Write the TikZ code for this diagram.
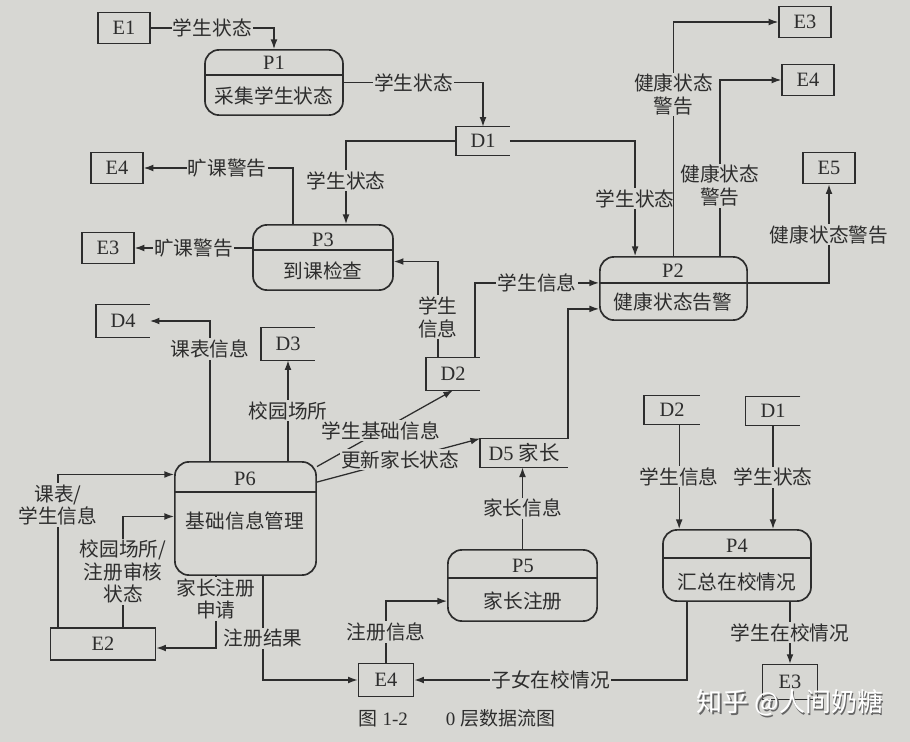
\documentclass[tikz,border=0pt]{standalone}
\usepackage{fontspec}
\setmainfont{Liberation Serif}
\newfontfamily\cjk{Noto Sans CJK SC}
\usetikzlibrary{arrows.meta}
\definecolor{bg}{RGB}{215,215,211}
\definecolor{ink}{RGB}{45,45,45}
\tikzset{%
  entity/.style = {draw=ink, line width=1pt, rectangle, minimum width=1.3cm,
    minimum height=0.78cm, font=\fontsize{14.5}{16}\selectfont},
  store/.style  = {rectangle, minimum width=1.33cm, minimum height=0.7cm,
    font=\fontsize{14.5}{16}\selectfont}, % open box
  proc/.style   = {draw=ink, line width=1.2pt, rectangle, rounded corners=10pt},
  pid/.style    = {font=\fontsize{14.5}{16}\selectfont},
  ptext/.style  = {font=\cjk\fontsize{14}{16}\selectfont},
  flow/.style   = {draw=ink, line width=0.9pt, -{Latex[length=2.4mm,width=1.7mm]}},
  lbl/.style    = {fill=bg, inner sep=1pt, align=center,
    font=\cjk\fontsize{14}{16}\selectfont}
}
\begin{document}
\begin{tikzpicture}[x=0.025cm, y=-0.025cm, color=ink, text=ink]
\fill[bg] (0,0) rectangle (910,742);
\useasboundingbox (0,0) rectangle (910,742);
% external entities
\node[entity] (E1)  at (124,28)  {E1};
\node[entity] (E4a) at (117,168) {E4};
\node[entity] (E3a) at (108,248) {E3};
\node[entity] (E3b) at (805,22)  {E3};
\node[entity] (E4b) at (808,80)  {E4};
\node[entity] (E5)  at (829,168) {E5};
\node[entity, minimum width=2.63cm, minimum height=0.8cm] (E2) at (103,644) {E2};
\node[entity, minimum width=1.38cm, minimum height=0.83cm] (E4c) at (386,680) {E4};
\node[entity, minimum width=1.38cm, minimum height=0.87cm] (E3c) at (790,682) {E3};
% data stores
\node[store] (D1)  at (483,141) {D1};
\node[store, minimum height=0.8cm] (D2a) at (453,374) {D2};
\node[store, minimum height=0.8cm] (D3)  at (288,344) {D3};
\node[store, minimum height=0.82cm] (D4)  at (123,321) {D4};
\node[store, minimum width=2.18cm] (D5) at (524,453) {D5 {\cjk 家长}};
\node[store, minimum width=1.38cm] (D2b) at (672,410) {D2};
\node[store, minimum width=1.35cm] (D1b) at (773,411) {D1};
\foreach \s in {D1,D2a,D3,D4,D5,D2b,D1b}
  \draw[line width=1pt] (\s.north east) -- (\s.north west) -- (\s.south west) -- (\s.south east);
% processes
\node[proc, minimum width=3.45cm, minimum height=1.63cm] (P1) at (274,82.5) {};
\node[proc, minimum width=3.5cm, minimum height=1.63cm]  (P3) at (323,257.5) {};
\node[proc, minimum width=3.68cm, minimum height=1.58cm] (P2) at (673.5,288.5) {};
\node[proc, minimum width=3.53cm, minimum height=2.83cm] (P6) at (245.5,518.5) {};
\node[proc, minimum width=3.73cm, minimum height=1.78cm] (P5) at (522.5,585.5) {};
\node[proc, minimum width=3.7cm, minimum height=1.78cm]  (P4) at (737,565.5) {};
\foreach \p/\d in {P1/75,P3/250,P2/283,P6/492,P5/578,P4/558}
  \draw[line width=1pt] (\p.west |- 0,\d) -- (\p.east |- 0,\d);
\node[pid] (P1id) at (274,63)  {P1};
\node[ptext] (P1txt) at (274,96) {采集学生状态};
\node[pid] (P3id) at (323,240) {P3};
\node[ptext] (P3txt) at (323,271) {到课检查};
\node[pid] (P2id) at (673,271) {P2};
\node[ptext] (P2txt) at (673,302) {健康状态告警};
\node[pid] (P6id) at (245,479) {P6};
\node[ptext] (P6txt) at (245,521) {基础信息管理};
\node[pid] (P5id) at (523,566) {P5};
\node[ptext] (P5txt) at (523,601) {家长注册};
\node[pid] (P4id) at (737,546) {P4};
\node[ptext] (P4txt) at (737,582) {汇总在校情况};
% flows
\draw[flow] (E1) -| node[lbl, pos=.25] {学生状态} (P1);
\draw[flow] (P1) -| node[lbl, pos=.25] {学生状态} (D1);
\draw[flow] (D1.west) -| node[lbl, pos=.74] {学生状态} ([xshift=.575cm]P3.north);
\draw[flow] (D1.east) -| node[lbl, pos=.75] {学生状态} ([xshift=-.96cm]P2.north);
\draw[flow] ([xshift=-.75cm]P3.north) |- node[lbl, pos=.72] {旷课警告} (E4a);
\draw[flow] (E3a -| P3.west) -- node[lbl] {旷课警告} (E3a);
\draw[flow] ([xshift=-.375cm]D2a.north) |- node[lbl, pos=.21] {学生\\信息} ([yshift=-.1cm]P3.east);
\draw[flow] ([xshift=.55cm]D2a.north) |- node[lbl, pos=.75] {学生信息} ([yshift=.14cm]P2.west);
\draw[flow] (P2.north) |- node[lbl, pos=.345] {健康状态\\警告} (E3b);
\draw[flow] ([xshift=1.16cm]P2.north) |- node[lbl, pos=.2] {健康状态\\警告} (E4b);
\draw[flow] ([yshift=.14cm]P2.east) -| node[lbl, pos=.745] {健康状态警告} (E5);
\draw[flow] (D5.north east) |- ([yshift=-.51cm]P2.west);
\draw[flow] (P6.36) -- node[lbl, pos=.47] {学生基础信息} (D2a.south);
\draw[flow] (P6.27) -- node[lbl, pos=.51] {更新家长状态} (D5.north west);
\draw[flow] ([xshift=-.89cm]P6.north) |- node[lbl, pos=.4] {课表信息} (D4);
\draw[flow] (P6.north -| D3) -- node[lbl] {校园场所} (D3);
\draw[flow] ([xshift=-1.125cm]E2.north) |- node[lbl, pos=.4] {课表/\\学生信息} ([yshift=1.1cm]P6.west);
\draw[flow] ([xshift=.5cm]E2.north) |- node[lbl, pos=.25] {校园场所/\\注册审核\\状态} ([yshift=.05cm]P6.west);
\draw[flow] ([xshift=-.74cm]P6.south) |- node[lbl, pos=.16] {家长注册\\申请} ([yshift=-.1cm]E2.east);
\draw[flow] ([xshift=.44cm]P6.south) |- node[lbl, pos=.3] {注册结果} (E4c);
\draw[flow] (E4c.north) |- node[lbl, pos=.25] {注册信息} ([yshift=-.39cm]P5.west);
\draw[flow] (P5.north) -- node[lbl] {家长信息} (P5.north |- D5.south);
\coordinate (d2b) at ([xshift=.18cm]D2b.south);
\draw[flow] (d2b) -- node[lbl] {学生信息} (d2b |- P4.north);
\draw[flow] (D1b) -- node[lbl] {学生状态} (D1b |- P4.north);
\draw[flow] (P4.south -| E3c) -- node[lbl] {学生在校情况} (E3c);
\draw[flow] ([xshift=-1.25cm]P4.south) |- node[lbl, pos=.75] {子女在校情况} (E4c);
% caption and watermark
\node[font=\fontsize{13.5}{15}\selectfont] (cap) at (457,718) {{\cjk 图} 1-2\hspace{2em}0 {\cjk 层数据流图}};
\node[text=black!60, font=\cjk\fontsize{18.5}{20}\selectfont] (wmshadow) at (791.5,704.5) {知乎 @人间奶糖};
\node[text=white, font=\cjk\fontsize{18.5}{20}\selectfont] (wm) at (790,703) {知乎 @人间奶糖};
\end{tikzpicture}
\end{document}
